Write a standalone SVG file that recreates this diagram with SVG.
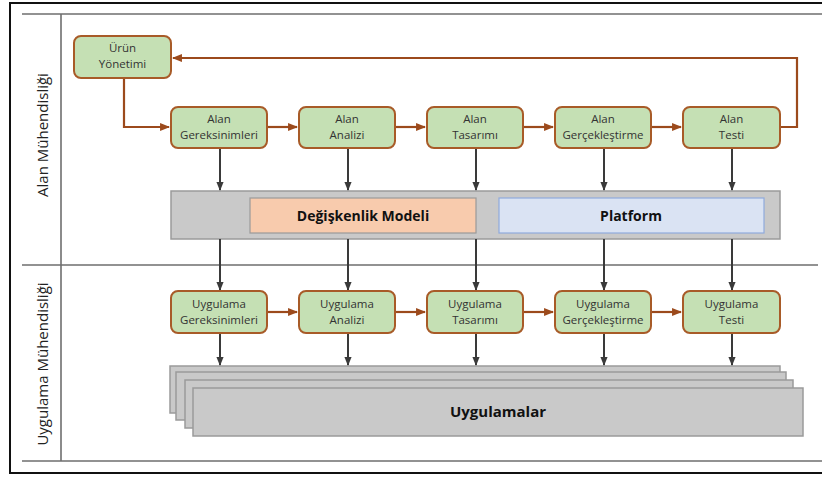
<svg xmlns="http://www.w3.org/2000/svg" width="822" height="477" viewBox="0 0 822 477">
  <defs>
    <marker id="arrBrown" viewBox="0 0 10 10" refX="9" refY="5" markerWidth="4.5" markerHeight="4.5" orient="auto" markerUnits="strokeWidth">
      <path d="M0,1 L10,5 L0,9 Z" fill="#9C4A1C"/>
    </marker>
    <marker id="arrGray" viewBox="0 0 10 10" refX="9" refY="5" markerWidth="4.5" markerHeight="4.5" orient="auto" markerUnits="strokeWidth">
      <path d="M0,1 L10,5 L0,9 Z" fill="#3A3A3A"/>
    </marker>
  </defs>
  <style>
    .frame { fill: none; stroke: #111; stroke-width: 2; }
    .lane { fill: none; stroke: #6E6E6E; stroke-width: 1.6; }
    .box rect { fill: #C5E0B4; stroke: #A85B28; stroke-width: 2; }
    .box text { font-family: "Open Sans", "Liberation Sans", sans-serif; font-size: 11.5px; fill: #333; text-anchor: middle; }
    .flow { fill: none; stroke: #9C4A1C; stroke-width: 2.2; marker-end: url(#arrBrown); }
    .down { fill: none; stroke: #3A3A3A; stroke-width: 2; marker-end: url(#arrGray); }
    .band { fill: #C9C9C9; stroke: #9A9A9A; stroke-width: 1.5; }
    .big { font-family: "Open Sans", "Liberation Sans", sans-serif; font-size: 14px; font-weight: bold; fill: #111; text-anchor: middle; }
    .side { font-family: "Open Sans", "Liberation Sans", sans-serif; font-size: 15px; fill: #222; text-anchor: middle; }
  </style>

  <rect width="822" height="477" fill="#FFFFFF"/>

  <!-- outer frame, open on the right -->
  <path class="frame" d="M824,3 H10 V473 H824"/>

  <!-- swimlane grid -->
  <g id="lanes">
    <path class="lane" d="M22,14 H822"/>
    <path class="lane" d="M22,265 H818"/>
    <path class="lane" d="M22,461 H822"/>
    <path class="lane" d="M61,14 V461"/>
    <text class="side" transform="translate(47.5,135) rotate(-90)">Alan Mühendisliği</text>
    <text class="side" transform="translate(47.5,364) rotate(-90)">Uygulama Mühendisliği</text>
  </g>

  <!-- shared assets band -->
  <g id="assets">
    <rect class="band" x="171" y="191" width="609" height="48"/>
    <rect x="250" y="198" width="226" height="35" fill="#F8CBAD" stroke="#9A9A9A" stroke-width="1.2"/>
    <text class="big" x="363" y="220.5">Değişkenlik Modeli</text>
    <rect x="499" y="198" width="265" height="35" fill="#DAE3F3" stroke="#8FAADC" stroke-width="1.2"/>
    <text class="big" x="631" y="220.5">Platform</text>
  </g>

  <!-- stacked applications -->
  <g id="applications">
    <rect class="band" x="170" y="366" width="610" height="47"/>
    <rect class="band" x="176" y="372" width="610" height="48"/>
    <rect class="band" x="185" y="380" width="608" height="48"/>
    <rect class="band" x="193" y="388" width="610" height="48"/>
    <text class="big" x="498" y="417" style="font-size:15px">Uygulamalar</text>
  </g>

  <!-- connectors -->
  <g id="connectors">
    <path class="flow" d="M124,78 V127 H169"/>
    <path class="flow" d="M267,127 H297"/>
    <path class="flow" d="M395,127 H425"/>
    <path class="flow" d="M523,127 H553"/>
    <path class="flow" d="M651,127 H681"/>
    <path class="flow" d="M780,127 H797 V58 H173"/>

    <path class="flow" d="M267,312 H297"/>
    <path class="flow" d="M395,312 H425"/>
    <path class="flow" d="M523,312 H553"/>
    <path class="flow" d="M651,312 H681"/>

    <path class="down" d="M220,148 V190"/>
    <path class="down" d="M348,148 V190"/>
    <path class="down" d="M476,148 V190"/>
    <path class="down" d="M604,148 V190"/>
    <path class="down" d="M732,148 V190"/>

    <path class="down" d="M220,239 V290"/>
    <path class="down" d="M348,239 V290"/>
    <path class="down" d="M476,239 V290"/>
    <path class="down" d="M604,239 V290"/>
    <path class="down" d="M732,239 V290"/>

    <path class="down" d="M220,333 V365"/>
    <path class="down" d="M348,333 V365"/>
    <path class="down" d="M476,333 V365"/>
    <path class="down" d="M604,333 V365"/>
    <path class="down" d="M732,333 V365"/>
  </g>

  <!-- domain engineering nodes -->
  <g id="urun-yonetimi" class="box">
    <rect x="74" y="36" width="97" height="42" rx="7"/>
    <text x="122.5" y="52">Ürün</text>
    <text x="122.5" y="67.5">Yönetimi</text>
  </g>
  <g id="alan-gereksinimleri" class="box">
    <rect x="171" y="107" width="96" height="41" rx="7"/>
    <text x="219" y="123">Alan</text>
    <text x="219" y="139">Gereksinimleri</text>
  </g>
  <g id="alan-analizi" class="box">
    <rect x="299" y="107" width="96" height="41" rx="7"/>
    <text x="347" y="123">Alan</text>
    <text x="347" y="139">Analizi</text>
  </g>
  <g id="alan-tasarimi" class="box">
    <rect x="427" y="107" width="96" height="41" rx="7"/>
    <text x="475" y="123">Alan</text>
    <text x="475" y="139">Tasarımı</text>
  </g>
  <g id="alan-gerceklestirme" class="box">
    <rect x="555" y="107" width="96" height="41" rx="7"/>
    <text x="603" y="123">Alan</text>
    <text x="603" y="139">Gerçekleştirme</text>
  </g>
  <g id="alan-testi" class="box">
    <rect x="683" y="107" width="97" height="41" rx="7"/>
    <text x="731.5" y="123">Alan</text>
    <text x="731.5" y="139">Testi</text>
  </g>

  <!-- application engineering nodes -->
  <g id="uygulama-gereksinimleri" class="box">
    <rect x="171" y="291" width="96" height="42" rx="7"/>
    <text x="219" y="308">Uygulama</text>
    <text x="219" y="324">Gereksinimleri</text>
  </g>
  <g id="uygulama-analizi" class="box">
    <rect x="299" y="291" width="96" height="42" rx="7"/>
    <text x="347" y="308">Uygulama</text>
    <text x="347" y="324">Analizi</text>
  </g>
  <g id="uygulama-tasarimi" class="box">
    <rect x="427" y="291" width="96" height="42" rx="7"/>
    <text x="475" y="308">Uygulama</text>
    <text x="475" y="324">Tasarımı</text>
  </g>
  <g id="uygulama-gerceklestirme" class="box">
    <rect x="555" y="291" width="96" height="42" rx="7"/>
    <text x="603" y="308">Uygulama</text>
    <text x="603" y="324">Gerçekleştirme</text>
  </g>
  <g id="uygulama-testi" class="box">
    <rect x="683" y="291" width="97" height="42" rx="7"/>
    <text x="731.5" y="308">Uygulama</text>
    <text x="731.5" y="324">Testi</text>
  </g>
</svg>
